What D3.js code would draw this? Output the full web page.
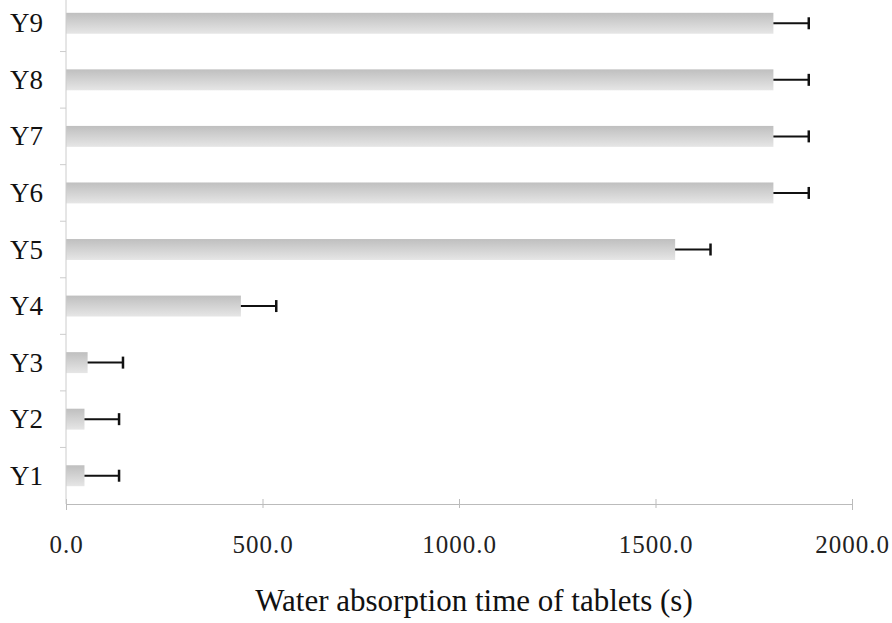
<!DOCTYPE html>
<html>
<head>
<meta charset="utf-8">
<script src="https://cdn.jsdelivr.net/npm/d3@7"></script>
<style>
body { margin: 0; background: #fff; }
text { font-family: "Liberation Serif", "Times New Roman", serif; }
</style>
</head>
<body>
<svg id="chart"></svg>
<script>
// samples, bottom to top
var categories = ["Y1", "Y2", "Y3", "Y4", "Y5", "Y6", "Y7", "Y8", "Y9"];
var times = [47, 47, 55, 445, 1550, 1800, 1800, 1800, 1800];
var errors = [88, 88, 90, 90, 90, 90, 90, 90, 90];
var xTicks = [0, 500, 1000, 1500, 2000];

var screen = {width: 892, height: 623};
var margins = {left: 66, right: 40, top: -5, bottom: 119};

var graph = {
    width: 852 - margins.left,
    height: screen.height - margins.top - margins.bottom
};

var serif = "'Liberation Serif', 'Times New Roman', serif";

var svg = d3.select("#chart")
    .attr("width", screen.width)
    .attr("height", screen.height);

var defs = svg.append("defs");
var grad = defs.append("linearGradient")
    .attr("id", "barFill")
    .attr("x1", 0).attr("y1", 0).attr("x2", 0).attr("y2", 1);
grad.append("stop").attr("offset", "0%").attr("stop-color", "#bfbfbf");
grad.append("stop").attr("offset", "100%").attr("stop-color", "#e6e6e6");

var target = svg.append("g")
    .attr("transform", "translate(" + margins.left + "," + margins.top + ")");

var xScale = d3.scaleLinear()
    .domain([0, 2000])
    .range([0, graph.width]);

var yScale = d3.scaleBand()
    .domain(categories.slice().reverse())
    .range([0, graph.height])
    .paddingInner(0.63)
    .paddingOuter(0.315);

var band = graph.height / categories.length;

// bars
target.selectAll("rect.bar")
    .data(categories)
    .enter()
    .append("rect")
    .attr("class", "bar")
    .attr("x", 0)
    .attr("y", function(d) { return yScale(d); })
    .attr("width", function(d, i) { return xScale(times[i]); })
    .attr("height", yScale.bandwidth())
    .attr("fill", "url(#barFill)");

// error bars
var err = target.selectAll("g.err")
    .data(categories)
    .enter()
    .append("g")
    .attr("class", "err")
    .attr("stroke", "#111")
    .attr("stroke-width", 2);

err.append("line")
    .attr("x1", function(d, i) { return xScale(times[i]); })
    .attr("x2", function(d, i) { return xScale(times[i] + errors[i]); })
    .attr("y1", function(d) { return yScale(d) + yScale.bandwidth() / 2; })
    .attr("y2", function(d) { return yScale(d) + yScale.bandwidth() / 2; });

err.append("line")
    .attr("stroke-width", 2.5)
    .attr("x1", function(d, i) { return xScale(times[i] + errors[i]); })
    .attr("x2", function(d, i) { return xScale(times[i] + errors[i]); })
    .attr("y1", function(d) { return yScale(d) + yScale.bandwidth() / 2 - 6; })
    .attr("y2", function(d) { return yScale(d) + yScale.bandwidth() / 2 + 6; });

// x axis
var xAxis = target.append("g")
    .attr("transform", "translate(0," + graph.height + ")")
    .call(d3.axisBottom(xScale).tickValues(xTicks).tickSize(6).tickFormat(d3.format(".1f")));
xAxis.select(".domain").attr("stroke", "#bbb");
xAxis.selectAll(".tick line").attr("stroke", "#bbb").attr("y1", -5).attr("y2", 4);
xAxis.selectAll(".tick text")
    .attr("y", 49)
    .attr("dy", 0)
    .attr("fill", "#222")
    .style("font-family", serif)
    .style("font-size", "25px")
    .style("letter-spacing", "1px");

// y axis line and separator ticks
target.append("line")
    .attr("x1", 0).attr("x2", 0)
    .attr("y1", 0).attr("y2", graph.height)
    .attr("stroke", "#ccc");

target.selectAll("line.sep")
    .data(d3.range(1, categories.length))
    .enter()
    .append("line")
    .attr("class", "sep")
    .attr("x1", -6).attr("x2", 0)
    .attr("y1", function(d) { return d * band; })
    .attr("y2", function(d) { return d * band; })
    .attr("stroke", "#ccc");

// category labels
target.selectAll("text.cat")
    .data(categories)
    .enter()
    .append("text")
    .attr("class", "cat")
    .attr("x", -23)
    .attr("y", function(d) { return yScale(d) + yScale.bandwidth() / 2 + 9; })
    .attr("text-anchor", "end")
    .attr("fill", "#111")
    .style("font-family", serif)
    .style("font-size", "27px")
    .text(function(d) { return d; });

// axis title
svg.append("text")
    .attr("x", 474)
    .attr("y", 611)
    .attr("text-anchor", "middle")
    .attr("fill", "#111")
    .style("font-family", serif)
    .style("font-size", "31px")
    .text("Water absorption time of tablets (s)");
</script>
</body>
</html>
